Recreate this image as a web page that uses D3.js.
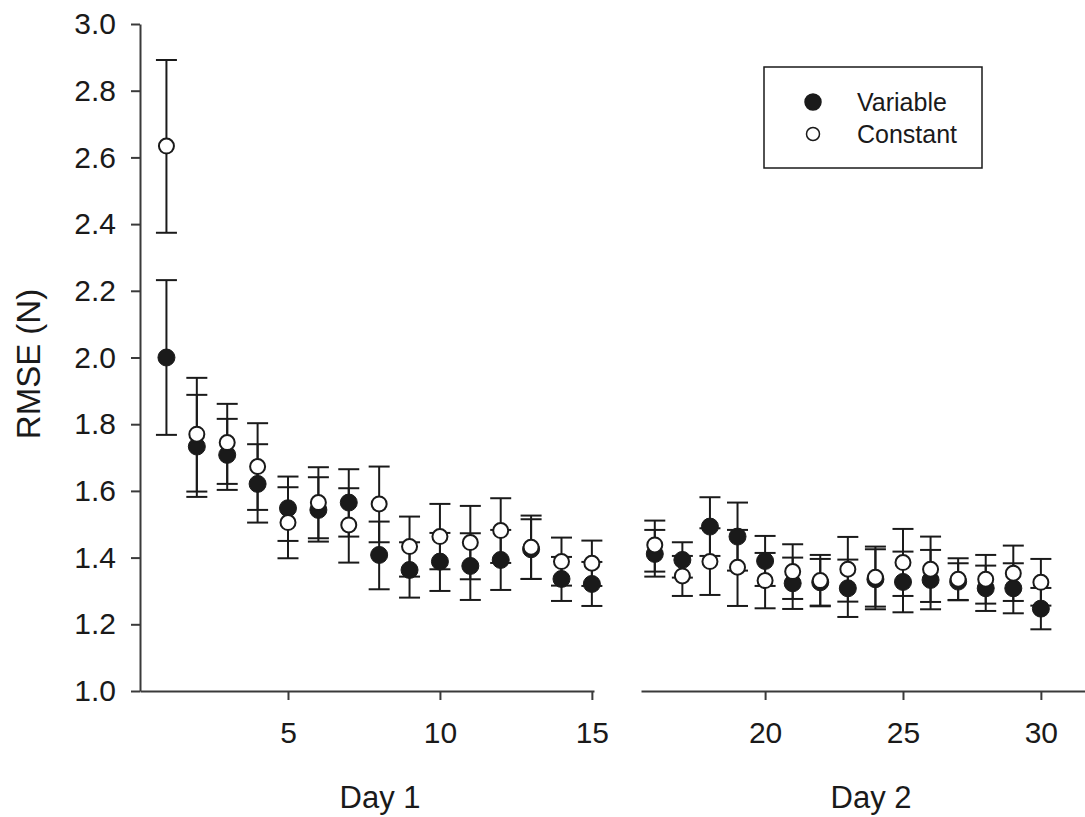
<!DOCTYPE html>
<html>
<head>
<meta charset="utf-8">
<script src="https://cdn.jsdelivr.net/npm/d3@7"></script>
<style>
  html, body { margin: 0; padding: 0; background: #fff; }
  svg { display: block; font-family: "Liberation Sans", Arial, sans-serif; }
</style>
</head>
<body>
<div id="chart"></div>
<script>
// trial numbers, Day 1 = 1..15, Day 2 = 16..30
const trials = d3.range(1, 31);

const variableMean = [2.00, 1.733, 1.708, 1.621, 1.548, 1.543, 1.565, 1.408, 1.363, 1.388, 1.375, 1.393, 1.425, 1.336, 1.321,
                      1.411, 1.393, 1.493, 1.463, 1.390, 1.323, 1.326, 1.308, 1.335, 1.327, 1.333, 1.328, 1.308, 1.308, 1.247];
const variableUpper = [2.232, 1.888, 1.816, 1.740, 1.643, 1.641, 1.665, 1.508, 1.446, 1.474, 1.473, 1.483, 1.515, 1.402, 1.387,
                       1.483, 1.446, 1.581, 1.565, 1.465, 1.400, 1.396, 1.394, 1.425, 1.418, 1.423, 1.383, 1.376, 1.383, 1.309];
const variableLower = [1.768, 1.582, 1.603, 1.505, 1.450, 1.448, 1.463, 1.305, 1.280, 1.300, 1.273, 1.303, 1.336, 1.270, 1.255,
                       1.343, 1.340, 1.405, 1.361, 1.315, 1.246, 1.256, 1.222, 1.245, 1.236, 1.245, 1.273, 1.240, 1.233, 1.185];

const constantMean = [2.634, 1.770, 1.745, 1.673, 1.505, 1.565, 1.498, 1.561, 1.433, 1.463, 1.445, 1.481, 1.431, 1.388, 1.383,
                      1.438, 1.345, 1.388, 1.371, 1.331, 1.358, 1.331, 1.365, 1.341, 1.385, 1.365, 1.335, 1.335, 1.353, 1.326];
const constantUpper = [2.892, 1.939, 1.861, 1.803, 1.611, 1.671, 1.608, 1.673, 1.523, 1.561, 1.555, 1.578, 1.526, 1.460, 1.451,
                       1.511, 1.405, 1.488, 1.483, 1.414, 1.440, 1.408, 1.462, 1.433, 1.486, 1.463, 1.398, 1.408, 1.436, 1.396];
const constantLower = [2.374, 1.598, 1.621, 1.543, 1.398, 1.458, 1.385, 1.446, 1.343, 1.365, 1.335, 1.384, 1.336, 1.316, 1.315,
                       1.358, 1.285, 1.288, 1.255, 1.248, 1.276, 1.254, 1.268, 1.253, 1.285, 1.267, 1.272, 1.262, 1.270, 1.256];

const day1Ticks = [5, 10, 15];
const day2Ticks = [20, 25, 30];
const yTicks = [1.0, 1.2, 1.4, 1.6, 1.8, 2.0, 2.2, 2.4, 2.6, 2.8, 3.0];
const seriesNames = ["Variable", "Constant"];

const W = 1085, H = 817;
const ink = "#1a1a1a";
const axisInk = "#3a3a3a";

const svg = d3.select("#chart").append("svg")
    .attr("width", W)
    .attr("height", H);

const y = d3.scaleLinear().domain([1.0, 3.0]).range([691, 24]);
const x1 = d3.scaleLinear().domain([0.13, 15.07]).range([140, 594]);
const x2 = d3.scaleLinear().domain([15.5, 31.6]).range([641, 1085]);
const xOf = t => t <= 15 ? x1(t) : x2(t);

// axes
const yAxis = svg.append("g")
    .attr("transform", `translate(${x1.range()[0]},0)`)
    .call(d3.axisLeft(y).tickValues(yTicks).tickFormat(d3.format(".1f")).tickSize(9).tickPadding(15).tickSizeOuter(0));

const xAxis1 = svg.append("g")
    .attr("transform", `translate(0,${y(1.0)})`)
    .call(d3.axisBottom(x1).tickValues(day1Ticks).tickSize(9).tickPadding(22).tickSizeOuter(0));

const xAxis2 = svg.append("g")
    .attr("transform", `translate(0,${y(1.0)})`)
    .call(d3.axisBottom(x2).tickValues(day2Ticks).tickSize(9).tickPadding(22).tickSizeOuter(0));

[yAxis, xAxis1, xAxis2].forEach(g => {
    g.select(".domain").attr("stroke", axisInk).attr("stroke-width", 2);
    g.selectAll(".tick line").attr("stroke", axisInk).attr("stroke-width", 2);
    g.selectAll(".tick text")
        .attr("fill", ink)
        .style("font-size", "30px")
        .style("font-family", '"Liberation Sans", Arial, sans-serif');
});

// axis titles
svg.append("text")
    .attr("transform", `translate(40,364) rotate(-90)`)
    .attr("text-anchor", "middle")
    .attr("fill", ink)
    .style("font-size", "33px")
    .text("RMSE (N)");

svg.append("text")
    .attr("x", d3.mean(x1.range()) + 13)
    .attr("y", 808)
    .attr("text-anchor", "middle")
    .attr("fill", ink)
    .style("font-size", "31px")
    .text("Day 1");

svg.append("text")
    .attr("x", 871)
    .attr("y", 808)
    .attr("text-anchor", "middle")
    .attr("fill", ink)
    .style("font-size", "31px")
    .text("Day 2");

// build rows
const variable = trials.map((t, i) => ({t, m: variableMean[i], hi: variableUpper[i], lo: variableLower[i]}));
const constant = trials.map((t, i) => ({t, m: constantMean[i], hi: constantUpper[i], lo: constantLower[i]}));

const capHalf = 10.5;
const r = 8.5;

function drawErrors(rows) {
    const g = svg.append("g").attr("stroke", ink).attr("stroke-width", 2);
    g.selectAll(".stem").data(rows).join("line")
        .attr("x1", d => xOf(d.t)).attr("x2", d => xOf(d.t))
        .attr("y1", d => y(d.hi)).attr("y2", d => y(d.lo));
    g.selectAll(".cap-hi").data(rows).join("line")
        .attr("x1", d => xOf(d.t) - capHalf).attr("x2", d => xOf(d.t) + capHalf)
        .attr("y1", d => y(d.hi)).attr("y2", d => y(d.hi));
    g.selectAll(".cap-lo").data(rows).join("line")
        .attr("x1", d => xOf(d.t) - capHalf).attr("x2", d => xOf(d.t) + capHalf)
        .attr("y1", d => y(d.lo)).attr("y2", d => y(d.lo));
}

drawErrors(variable);
drawErrors(constant);

svg.append("g").selectAll("circle").data(variable).join("circle")
    .attr("cx", d => xOf(d.t)).attr("cy", d => y(d.m))
    .attr("r", r)
    .attr("fill", ink)
    .attr("stroke", ink).attr("stroke-width", 1);

svg.append("g").selectAll("circle").data(constant).join("circle")
    .attr("cx", d => xOf(d.t)).attr("cy", d => y(d.m))
    .attr("r", r - 1)
    .attr("fill", "#fff")
    .attr("stroke", ink).attr("stroke-width", 2);

// legend
const legend = svg.append("g").attr("transform", "translate(764,67)");
legend.append("rect")
    .attr("width", 218).attr("height", 101)
    .attr("fill", "#fff")
    .attr("stroke", ink).attr("stroke-width", 1.5);

const legendRows = legend.selectAll(".row").data(seriesNames).join("g")
    .attr("transform", (d, i) => `translate(0,${35 + i * 32})`);

legendRows.append("circle")
    .attr("cx", 49).attr("cy", 0)
    .attr("r", (d, i) => i === 0 ? 8 : 6.5)
    .attr("fill", (d, i) => i === 0 ? ink : "#fff")
    .attr("stroke", ink).attr("stroke-width", 1.5);

legendRows.append("text")
    .attr("x", 93).attr("y", 9)
    .attr("fill", ink)
    .style("font-size", "25px")
    .text(d => d);
</script>
</body>
</html>
